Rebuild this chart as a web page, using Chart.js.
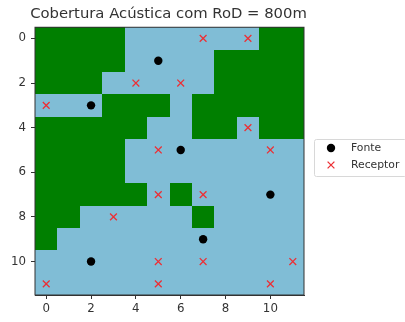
<!DOCTYPE html>
<html>
<head>
<meta charset="utf-8">
<script src="https://cdn.jsdelivr.net/npm/chart.js@4"></script>
<style>
  html, body { margin: 0; padding: 0; background: #fff; }
  canvas { display: block; }
</style>
</head>
<body>
<canvas id="grafica" width="405" height="322"></canvas>
<script>
// Mapa de cobertura: 1 = sem cobertura (verde), 0 = coberto (azul)
const cobertura = [
  [1,1,1,1,0,0,0,0,0,0,1,1],
  [1,1,1,1,0,0,0,0,1,1,1,1],
  [1,1,1,0,0,0,0,0,1,1,1,1],
  [0,0,0,1,1,1,0,1,1,1,1,1],
  [1,1,1,1,1,0,0,1,1,0,1,1],
  [1,1,1,1,0,0,0,0,0,0,0,0],
  [1,1,1,1,0,0,0,0,0,0,0,0],
  [1,1,1,1,1,0,1,0,0,0,0,0],
  [1,1,0,0,0,0,0,1,0,0,0,0],
  [1,0,0,0,0,0,0,0,0,0,0,0],
  [0,0,0,0,0,0,0,0,0,0,0,0],
  [0,0,0,0,0,0,0,0,0,0,0,0]
];
const fontes = [[5,1],[2,3],[6,5],[10,7],[7,9],[2,10]];
const receptores = [[7,0],[9,0],[4,2],[6,2],[0,3],[9,4],[5,5],[10,5],[5,7],[7,7],[3,8],[5,10],[7,10],[11,10],[0,11],[5,11],[10,11]];
const ticksEixo = [0,2,4,6,8,10];
const titulo = 'Cobertura Acústica com RoD = 800m';

const corVerde = '#007f00';
const corAzul = '#80bdd6';
const corTexto = '#333333';
const corX = '#ec2f35';
const fonte = 'DejaVu Sans';

// Desenha as células do mapa usando as escalas do gráfico
const mapaPlugin = {
  id: 'mapa',
  afterLayout(chart) {
    // título centrado sobre a área do mapa, não sobre o canvas todo
    chart.titleBlock.left = 30;
    chart.titleBlock.right = 307;
  },
  beforeDatasetsDraw(chart) {
    const { ctx, scales: { x, y } } = chart;
    ctx.save();
    cobertura.forEach((linha, l) => {
      linha.forEach((v, c) => {
        const x0 = Math.round(x.getPixelForValue(c - 0.5)), x1 = Math.round(x.getPixelForValue(c + 0.5));
        const y0 = Math.round(y.getPixelForValue(l - 0.5)), y1 = Math.round(y.getPixelForValue(l + 0.5));
        ctx.fillStyle = v ? corVerde : corAzul;
        ctx.fillRect(x0, y0, x1 - x0, y1 - y0);
      });
    });
    ctx.restore();
  },
  afterDraw(chart) {
    const { ctx, chartArea: a } = chart;
    ctx.save();
    ctx.strokeStyle = '#333';
    ctx.lineWidth = 1;
    ctx.strokeRect(a.left, a.top, a.right - a.left, a.bottom - a.top);
    ctx.strokeStyle = '#d8d8d8';
    ctx.beginPath();
    ctx.roundRect(314.5, 139.5, 92, 37, 2);
    ctx.stroke();
    // Legenda desenhada à direita, fora da área do gráfico
    ctx.font = '10.8px ' + fonte;
    ctx.fillStyle = corTexto;
    ctx.textBaseline = 'middle';
    ctx.fillText(chart.data.datasets[0].label, 351, 148);
    ctx.fillText(chart.data.datasets[1].label, 351, 165);
    ctx.fillStyle = '#000';
    Chart.helpers.drawPoint(ctx, { pointStyle: 'circle', radius: 4.2, borderWidth: 0 }, 331, 148);
    ctx.strokeStyle = corX;
    ctx.lineWidth = 1.3;
    Chart.helpers.drawPoint(ctx, { pointStyle: 'crossRot', radius: 4.8, borderWidth: 1.3 }, 331, 165);
    ctx.restore();
  }
};

const eixo = (reverso, ajuste, folga) => ({
  type: 'linear',
  min: -0.5,
  max: 11.5,
  reverse: reverso,
  afterBuildTicks: s => { s.ticks = ticksEixo.map(v => ({ value: v })); },
  afterFit: ajuste,
  grid: { drawOnChartArea: false, tickLength: 4, color: '#333', tickWidth: 1 },
  border: { color: '#333' },
  ticks: {
    color: corTexto, autoSkip: false, maxRotation: 0, padding: folga,
    font: { family: fonte, size: 11.8 },
    callback: v => String(v)
  }
});

new Chart(document.getElementById('grafica'), {
  type: 'scatter',
  data: {
    datasets: [
      {
        label: 'Fonte',
        data: fontes.map(p => ({ x: p[0], y: p[1] })),
        pointStyle: 'circle', pointRadius: 4.2,
        backgroundColor: '#000', borderColor: '#000', borderWidth: 0
      },
      {
        label: 'Receptor',
        data: receptores.map(p => ({ x: p[0], y: p[1] })),
        pointStyle: 'crossRot', pointRadius: 4.8,
        backgroundColor: corX, borderColor: corX, borderWidth: 1.3
      }
    ]
  },
  options: {
    responsive: false,
    animation: false,
    layout: { padding: { left: 0, right: 101, top: 0, bottom: 0 } },
    plugins: {
      title: {
        display: true, text: titulo, color: corTexto,
        font: { family: fonte, size: 14.8, weight: 'normal' },
        padding: { top: 5, bottom: 4.5 }
      },
      legend: { display: false },
      tooltip: { enabled: false }
    },
    scales: {
      x: eixo(false, s => { s.height = 27; }, 3),
      y: eixo(true, s => { s.width = 35; }, 5)
    }
  },
  plugins: [mapaPlugin]
});
</script>
</body>
</html>
